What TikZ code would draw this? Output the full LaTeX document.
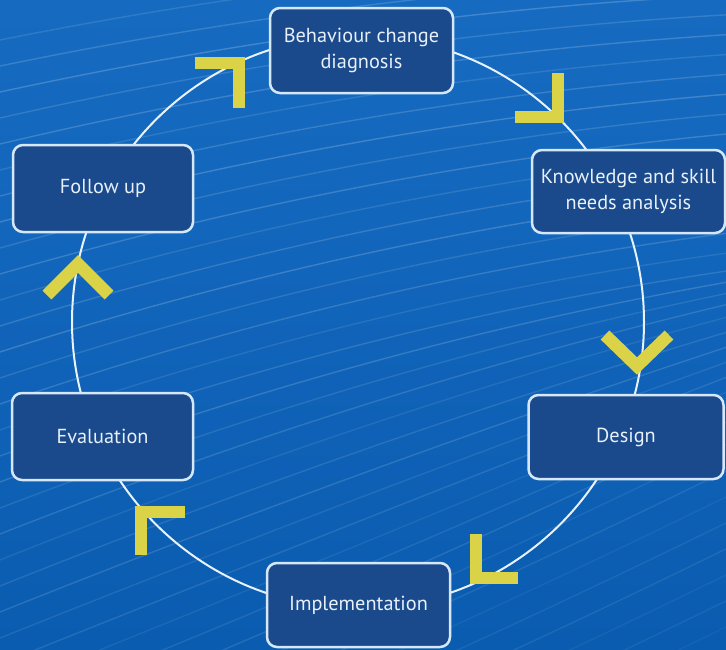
\documentclass[tikz,border=0pt]{standalone}
\usepackage{fontspec}
\setmainfont{PT Sans}
\usetikzlibrary{calc}

\definecolor{bgtop}{RGB}{22,107,193}
\definecolor{bgbottom}{RGB}{10,92,176}
\definecolor{boxfill}{RGB}{26,74,139}
\definecolor{boxline}{RGB}{214,232,248}
\definecolor{ringline}{RGB}{232,242,252}
\definecolor{chev}{RGB}{218,211,72}
\definecolor{label}{RGB}{232,240,250}

\begin{document}
\begin{tikzpicture}[x=1pt, y=-1pt,
  stage/.style={draw=boxline, line width=2.5pt, fill=boxfill, rounded corners=10pt,
    text=label, align=center, inner sep=0pt,
    font=\fontsize{20.3}{26}\selectfont},
  ring/.style={draw=ringline, line width=2pt},
  chevron/.style={draw=chev, line width=12.5pt, line join=miter, line cap=butt},
  stripe/.style={draw=white, line width=1.4pt}]

  % canvas and background
  \useasboundingbox (0,0) rectangle (726,649);
  \shade[top color=bgtop, bottom color=bgbottom] (0,0) rectangle (726,649);

  % faint sweeping lines across the backdrop: each one rises to the right,
  % steep at the lower left and flattening towards the upper right
  \begin{scope}
    \clip (0,0) rectangle (726,649);
    \foreach \k in {0,...,38} {
      \pgfmathsetmacro{\yl}{40+26*\k}
      \pgfmathsetmacro{\ua}{min(max((\yl-50)/500,0),1)}
      \pgfmathsetmacro{\ub}{min(max((\yl-50)/400,0),1)}
      \pgfmathsetmacro{\uc}{min(max((\yl-450)/300,0),1)}
      \pgfmathsetmacro{\sa}{0.2+0.2*\ua}
      \pgfmathsetmacro{\sb}{0.04+0.1*\ub+0.35*\uc}
      \pgfmathsetmacro{\yr}{\yl-726*(\sa+\sb)/2}
      \pgfmathsetmacro{\ca}{\yl-242*\sa}
      \pgfmathsetmacro{\cb}{\yr+242*\sb}
      \pgfmathsetmacro{\op}{(0.19-0.13*min(max((\yl-300)/700,0),1))*(0.6+0.4*mod(7*\k,5)/4)}
      \draw[stripe, opacity=\op] (0,\yl) .. controls (242,\ca) and (484,\cb) .. (726,\yr);
    }
  \end{scope}

  % the cycle ring
  \coordinate (hub) at (358,322);
  \draw[ring] (hub) circle[radius=286pt];

  % direction chevrons along the ring
  \draw[chevron] (195,63) -- (239,63) -- (239,108);
  \draw[chevron] (558,73) -- (558,117) -- (515,117);
  \draw[chevron] (605,335) -- (637,366) -- (669,335);
  \draw[chevron] (476,534) -- (476,578) -- (518,578);
  \draw[chevron] (185,512) -- (141,512) -- (141,555);
  \draw[chevron] (47,295) -- (78,264) -- (109,295);

  % stages of the cycle
  \node[stage, minimum width=183pt, minimum height=85pt] (diag) at (361.5,50.5)
    {Behaviour change\\diagnosis};
  \node[stage, minimum width=193pt, minimum height=83pt] (needs) at (628.5,191.5)
    {Knowledge and skill\\needs analysis};
  \node[stage, minimum width=195pt, minimum height=84pt] (design) at (626,437)
    {Design};
  \node[stage, minimum width=183pt, minimum height=84pt] (impl) at (358.5,605)
    {Implementation};
  \node[stage, minimum width=181pt, minimum height=87pt] (eval) at (102.5,436.5)
    {Evaluation};
  \node[stage, minimum width=180pt, minimum height=87pt] (follow) at (103,188.5)
    {Follow up};
\end{tikzpicture}
\end{document}
